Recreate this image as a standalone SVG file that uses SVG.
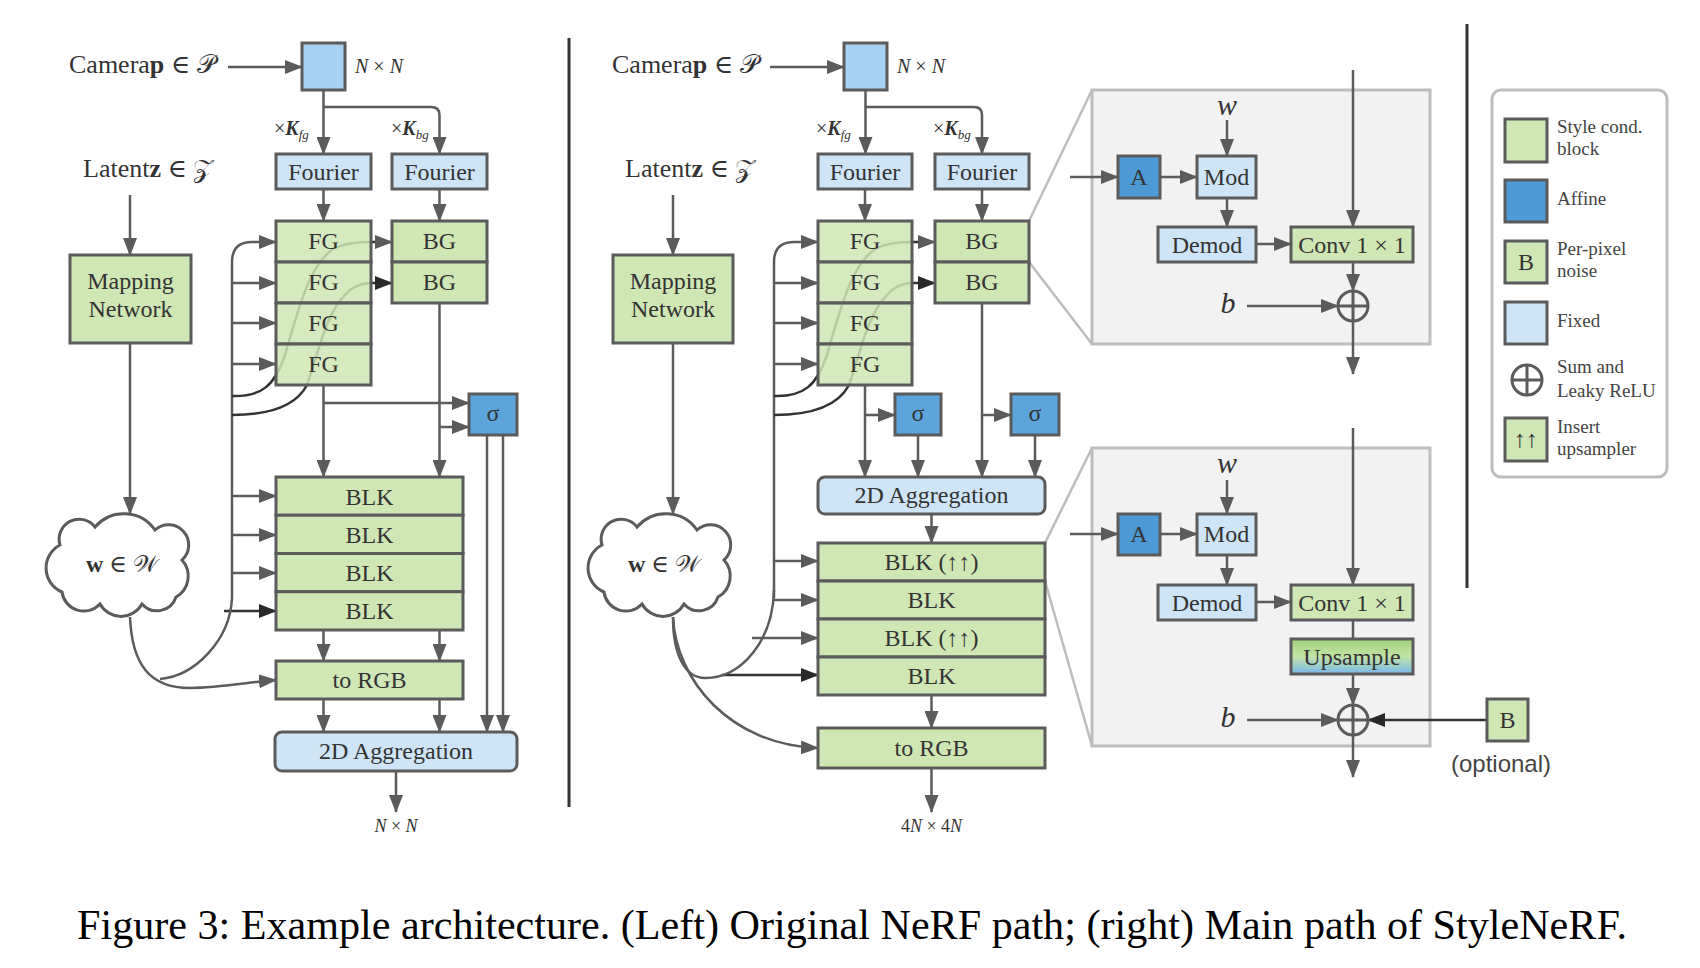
<svg xmlns="http://www.w3.org/2000/svg" width="1700" height="968" viewBox="0 0 1700 968">
<defs>
<style>
.box{stroke:#5b5b5b;stroke-width:3}
.g{fill:#cfe6b5}.fgc{fill:#cfe6b5;fill-opacity:0.85}.lb{fill:#cde5f6}.cb{fill:#a8d0f0}.sb{fill:#5ba5dc}.ab{fill:#4d9ad6}
.t{font-family:"Liberation Serif","DejaVu Serif",serif;font-size:24px;fill:#333;text-anchor:middle}
.s{font-family:"Liberation Serif","DejaVu Serif",serif;fill:#333}
.ln{fill:none;stroke:#5b5b5b;stroke-width:2.5}
.dk{fill:none;stroke:#333;stroke-width:2.5}
.fr{fill:none;stroke:#bdbdbd;stroke-width:2.5}
.sep{stroke:#333;stroke-width:3}
.lg{font-family:"Liberation Serif","DejaVu Serif",serif;font-size:19px;fill:#444}
</style>
<marker id="a" markerUnits="userSpaceOnUse" markerWidth="18" markerHeight="14" refX="17" refY="7" orient="auto"><path d="M0,0 L18,7 L0,14 Z" fill="#5b5b5b"/></marker>
<marker id="d" markerUnits="userSpaceOnUse" markerWidth="18" markerHeight="14" refX="17" refY="7" orient="auto"><path d="M0,0 L18,7 L0,14 Z" fill="#2a2a2a"/></marker>
<linearGradient id="up" x1="0" y1="0" x2="0" y2="1"><stop offset="0" stop-color="#9fd47a"/><stop offset="0.5" stop-color="#c2e3a6"/><stop offset="1" stop-color="#78b8ea"/></linearGradient>
<path id="cloud" d="M60,545 A20,20 0 0 1 95,527 A38,38 0 0 1 155,530 A20,20 0 0 1 182,560 A24,24 0 0 1 176,597 A20,20 0 0 1 142,604 A24,24 0 0 1 100,604 A22,22 0 0 1 62,592 A26,26 0 0 1 60,545 Z"/>
</defs>
<rect width="1700" height="968" fill="#fff"/>

<!-- detail frames (background) -->
<g id="detail-frames">
<rect x="1092" y="90" width="338" height="254" fill="#f2f2f2" stroke="#bdbdbd" stroke-width="3"/>
<rect x="1092" y="448" width="338" height="298" fill="#f2f2f2" stroke="#bdbdbd" stroke-width="3"/>
<path class="fr" d="M1029,221 L1092,90 M1029,262 L1092,344 M1045,543 L1092,448 M1045,581 L1092,746"/>
</g>

<g id="connectors">
<!-- LEFT -->
<path class="ln" d="M228,67 H302" marker-end="url(#a)"/>
<path class="ln" d="M130,195 V255" marker-end="url(#a)"/>
<path class="ln" d="M323.5,90 V154" marker-end="url(#a)"/>
<path class="ln" d="M323.5,107 H431 Q439.5,107 439.5,115 V154" marker-end="url(#a)"/>
<path class="ln" d="M323.5,189 V221" marker-end="url(#a)"/>
<path class="ln" d="M439.5,189 V221" marker-end="url(#a)"/>
<path class="ln" d="M130,343 V514" marker-end="url(#a)"/>
<path class="ln" d="M232,598 L232,262 Q232,242 252,242 L276,242" marker-end="url(#a)"/>
<path class="ln" d="M232,283 H276" marker-end="url(#a)"/>
<path class="ln" d="M232,323 H276" marker-end="url(#a)"/>
<path class="ln" d="M232,364 H276" marker-end="url(#a)"/>
<path class="dk" d="M232,396 C262,397 275,385 285,355 C298,310 310,262 335,248 C345,243 358,242 371,242 L392,242" marker-end="url(#a)"/>
<path class="dk" d="M232,415 C265,415 295,408 307,385 C318,355 325,315 345,295 C352,287 360,283 371,283 L392,283" marker-end="url(#d)"/>
<path class="ln" d="M323.5,385 V477" marker-end="url(#a)"/>
<path class="ln" d="M323.5,403 H469" marker-end="url(#a)"/>
<path class="ln" d="M439.5,303 V477" marker-end="url(#a)"/>
<path class="ln" d="M439.5,427 H469" marker-end="url(#a)"/>
<path class="ln" d="M232,496 H276" marker-end="url(#a)"/>
<path class="ln" d="M232,535 H276" marker-end="url(#a)"/>
<path class="ln" d="M232,573 H276" marker-end="url(#a)"/>
<path class="dk" d="M224,611 H276" marker-end="url(#d)"/>
<path class="ln" d="M160,679 C195,676 230,640 232,598"/>
<path class="ln" d="M130,617 C132,665 150,688 190,688 C220,688 250,682 276,680" marker-end="url(#a)"/>
<path class="ln" d="M323.5,630 V661" marker-end="url(#a)"/>
<path class="ln" d="M439.5,630 V661" marker-end="url(#a)"/>
<path class="ln" d="M323.5,699 V732" marker-end="url(#a)"/>
<path class="ln" d="M439.5,699 V732" marker-end="url(#a)"/>
<path class="ln" d="M487,435 V732" marker-end="url(#a)"/>
<path class="ln" d="M503,435 V732" marker-end="url(#a)"/>
<path class="ln" d="M396,771 V812" marker-end="url(#a)"/>
<!-- RIGHT -->
<path class="ln" d="M770,67 H844" marker-end="url(#a)"/>
<path class="ln" d="M673,195 V255" marker-end="url(#a)"/>
<path class="ln" d="M865.5,90 V154" marker-end="url(#a)"/>
<path class="ln" d="M865.5,107 H974 Q982,107 982,115 V154" marker-end="url(#a)"/>
<path class="ln" d="M865,189 V221" marker-end="url(#a)"/>
<path class="ln" d="M982,189 V221" marker-end="url(#a)"/>
<path class="ln" d="M673,343 V514" marker-end="url(#a)"/>
<path class="ln" d="M774,598 L774,262 Q774,242 794,242 L818,242" marker-end="url(#a)"/>
<path class="ln" d="M774,283 H818" marker-end="url(#a)"/>
<path class="ln" d="M774,323 H818" marker-end="url(#a)"/>
<path class="ln" d="M774,364 H818" marker-end="url(#a)"/>
<path class="dk" d="M774,396 C804,397 817,385 827,355 C840,310 852,262 877,248 C887,243 900,242 912,242 L935,242" marker-end="url(#a)"/>
<path class="dk" d="M774,415 C807,415 837,408 849,385 C860,355 867,315 887,295 C894,287 902,283 912,283 L935,283" marker-end="url(#d)"/>
<path class="ln" d="M865,385 V477" marker-end="url(#a)"/>
<path class="ln" d="M865,415 H895" marker-end="url(#a)"/>
<path class="ln" d="M982,303 V477" marker-end="url(#a)"/>
<path class="ln" d="M982,415 H1011" marker-end="url(#a)"/>
<path class="ln" d="M918,435 V477" marker-end="url(#a)"/>
<path class="ln" d="M1035,435 V477" marker-end="url(#a)"/>
<path class="ln" d="M931.5,514 V543" marker-end="url(#a)"/>
<path class="ln" d="M774,561 H818" marker-end="url(#a)"/>
<path class="ln" d="M774,600 H818" marker-end="url(#a)"/>
<path class="ln" d="M752,638 H818" marker-end="url(#a)"/>
<path class="dk" d="M722,675 H818" marker-end="url(#d)"/>
<path class="ln" d="M774,590 C773,640 742,678 705,678"/>
<path class="ln" d="M673,617 C673,655 685,678 705,678"/>
<path class="ln" d="M673,617 C676,680 730,745 818,748" marker-end="url(#a)"/>
<path class="ln" d="M931.5,695 V728" marker-end="url(#a)"/>
<path class="ln" d="M931.5,768 V812" marker-end="url(#a)"/>
<!-- box 1 -->
<path class="ln" d="M1070,177 H1118" marker-end="url(#a)"/>
<path class="ln" d="M1160,177 H1197" marker-end="url(#a)"/>
<path class="ln" d="M1227,120 V156" marker-end="url(#a)"/>
<path class="ln" d="M1227,198 V227" marker-end="url(#a)"/>
<path class="ln" d="M1256,244 H1291" marker-end="url(#a)"/>
<path class="ln" d="M1353,70 V227" marker-end="url(#a)"/>
<path class="ln" d="M1353,262 V291" marker-end="url(#a)"/>
<path class="ln" d="M1247,306 H1338" marker-end="url(#a)"/>
<path class="ln" d="M1353,321 V374" marker-end="url(#a)"/>
<!-- box 2 -->
<path class="ln" d="M1070,534 H1118" marker-end="url(#a)"/>
<path class="ln" d="M1160,534 H1197" marker-end="url(#a)"/>
<path class="ln" d="M1227,480 V514" marker-end="url(#a)"/>
<path class="ln" d="M1227,555 V585" marker-end="url(#a)"/>
<path class="ln" d="M1256,602 H1291" marker-end="url(#a)"/>
<path class="ln" d="M1353,428 V585" marker-end="url(#a)"/>
<path class="ln" d="M1353,620 V639"/>
<path class="ln" d="M1353,674 V705" marker-end="url(#a)"/>
<path class="ln" d="M1247,720 H1338" marker-end="url(#a)"/>
<path class="dk" d="M1487,720 H1368" marker-end="url(#d)"/>
<path class="ln" d="M1353,735 V777" marker-end="url(#a)"/>
</g>

<!-- separators -->
<line class="sep" x1="569" y1="38" x2="569" y2="807"/>
<line class="sep" x1="1467" y1="24" x2="1467" y2="588"/>

<!-- LEFT NODES -->
<g id="camera-left">
<text class="s" x="69" y="73" font-size="26">Camera<tspan font-weight="bold">p</tspan> ∈ 𝒫</text>
<rect class="box cb" x="302" y="43" width="43" height="47"/>
<text class="s" x="355" y="73" font-size="20"><tspan font-style="italic">N</tspan> × <tspan font-style="italic">N</tspan></text>
</g>
<g id="latent-left"><text class="s" x="83" y="177" font-size="26">Latent<tspan font-weight="bold">z</tspan> ∈ 𝒵</text></g>
<g id="kfg-left"><text class="s" x="274" y="135" font-size="20">×<tspan font-style="italic" font-weight="bold">K</tspan><tspan font-style="italic" font-size="13" dy="4">fg</tspan></text></g>
<g id="kbg-left"><text class="s" x="391" y="135" font-size="20">×<tspan font-style="italic" font-weight="bold">K</tspan><tspan font-style="italic" font-size="13" dy="4">bg</tspan></text></g>
<g id="fourier-fg-left"><rect class="box lb" x="276" y="154" width="95" height="35"/><text class="t" x="323.5" y="180">Fourier</text></g>
<g id="fourier-bg-left"><rect class="box lb" x="392" y="154" width="95" height="35"/><text class="t" x="439.5" y="180">Fourier</text></g>
<g id="mapping-left"><rect class="box g" x="70" y="255" width="121" height="88"/><text class="t" x="130.5" y="289">Mapping</text><text class="t" x="130.5" y="317">Network</text></g>
<g id="fg-left">
<rect class="box fgc" x="276" y="221" width="95" height="41"/><text class="t" x="323.5" y="249" font-size="22">FG</text>
<rect class="box fgc" x="276" y="262" width="95" height="41"/><text class="t" x="323.5" y="290" font-size="22">FG</text>
<rect class="box fgc" x="276" y="303" width="95" height="41"/><text class="t" x="323.5" y="331" font-size="22">FG</text>
<rect class="box fgc" x="276" y="344" width="95" height="41"/><text class="t" x="323.5" y="372" font-size="22">FG</text>
</g>
<g id="bg-left">
<rect class="box g" x="392" y="221" width="95" height="41"/><text class="t" x="439.5" y="249" font-size="22">BG</text>
<rect class="box g" x="392" y="262" width="95" height="41"/><text class="t" x="439.5" y="290" font-size="22">BG</text>
</g>
<g id="sigma-left"><rect class="box sb" x="469" y="394" width="48" height="41"/><text class="t" x="493" y="421">σ</text></g>
<g id="cloud-left"><use href="#cloud" fill="#fff" stroke="#5b5b5b" stroke-width="3"/><text class="s" x="122" y="572" font-size="24" text-anchor="middle"><tspan font-weight="bold">w</tspan> ∈ 𝒲</text></g>
<g id="blk-left">
<rect class="box g" x="276" y="477" width="187" height="38.25"/><text class="t" x="369.5" y="505">BLK</text>
<rect class="box g" x="276" y="515.25" width="187" height="38.25"/><text class="t" x="369.5" y="543">BLK</text>
<rect class="box g" x="276" y="553.5" width="187" height="38.25"/><text class="t" x="369.5" y="581">BLK</text>
<rect class="box g" x="276" y="591.75" width="187" height="38.25"/><text class="t" x="369.5" y="619">BLK</text>
</g>
<g id="torgb-left"><rect class="box g" x="276" y="661" width="187" height="38"/><text class="t" x="369.5" y="688">to RGB</text></g>
<g id="agg-left"><rect class="box lb" x="275" y="732" width="242" height="39" rx="7"/><text class="t" x="396" y="759">2D Aggregation</text></g>
<g id="out-left"><text class="s" x="396" y="832" font-size="18" text-anchor="middle"><tspan font-style="italic">N</tspan> × <tspan font-style="italic">N</tspan></text></g>

<!-- RIGHT NODES -->
<g id="camera-right">
<text class="s" x="612" y="73" font-size="26">Camera<tspan font-weight="bold">p</tspan> ∈ 𝒫</text>
<rect class="box cb" x="844" y="43" width="43" height="47"/>
<text class="s" x="897" y="73" font-size="20"><tspan font-style="italic">N</tspan> × <tspan font-style="italic">N</tspan></text>
</g>
<g id="latent-right"><text class="s" x="625" y="177" font-size="26">Latent<tspan font-weight="bold">z</tspan> ∈ 𝒵</text></g>
<g id="kfg-right"><text class="s" x="816" y="135" font-size="20">×<tspan font-style="italic" font-weight="bold">K</tspan><tspan font-style="italic" font-size="13" dy="4">fg</tspan></text></g>
<g id="kbg-right"><text class="s" x="933" y="135" font-size="20">×<tspan font-style="italic" font-weight="bold">K</tspan><tspan font-style="italic" font-size="13" dy="4">bg</tspan></text></g>
<g id="fourier-fg-right"><rect class="box lb" x="818" y="154" width="94" height="35"/><text class="t" x="865" y="180">Fourier</text></g>
<g id="fourier-bg-right"><rect class="box lb" x="935" y="154" width="94" height="35"/><text class="t" x="982" y="180">Fourier</text></g>
<g id="mapping-right"><rect class="box g" x="613" y="255" width="120" height="88"/><text class="t" x="673" y="289">Mapping</text><text class="t" x="673" y="317">Network</text></g>
<g id="fg-right">
<rect class="box fgc" x="818" y="221" width="94" height="41"/><text class="t" x="865" y="249" font-size="22">FG</text>
<rect class="box fgc" x="818" y="262" width="94" height="41"/><text class="t" x="865" y="290" font-size="22">FG</text>
<rect class="box fgc" x="818" y="303" width="94" height="41"/><text class="t" x="865" y="331" font-size="22">FG</text>
<rect class="box fgc" x="818" y="344" width="94" height="41"/><text class="t" x="865" y="372" font-size="22">FG</text>
</g>
<g id="bg-right">
<rect class="box g" x="935" y="221" width="94" height="41"/><text class="t" x="982" y="249" font-size="22">BG</text>
<rect class="box g" x="935" y="262" width="94" height="41"/><text class="t" x="982" y="290" font-size="22">BG</text>
</g>
<g id="sigma-fg-right"><rect class="box sb" x="895" y="394" width="46" height="41"/><text class="t" x="918" y="421">σ</text></g>
<g id="sigma-bg-right"><rect class="box sb" x="1011" y="394" width="48" height="41"/><text class="t" x="1035" y="421">σ</text></g>
<g id="agg-right"><rect class="box lb" x="818" y="477" width="227" height="37" rx="7"/><text class="t" x="931.5" y="503">2D Aggregation</text></g>
<g id="cloud-right"><use href="#cloud" x="542" fill="#fff" stroke="#5b5b5b" stroke-width="3"/><text class="s" x="664" y="572" font-size="24" text-anchor="middle"><tspan font-weight="bold">w</tspan> ∈ 𝒲</text></g>
<g id="blk-right">
<rect class="box g" x="818" y="543" width="227" height="38"/><text class="t" x="931.5" y="570">BLK (↑↑)</text>
<rect class="box g" x="818" y="581" width="227" height="38"/><text class="t" x="931.5" y="608">BLK</text>
<rect class="box g" x="818" y="619" width="227" height="38"/><text class="t" x="931.5" y="646">BLK (↑↑)</text>
<rect class="box g" x="818" y="657" width="227" height="38"/><text class="t" x="931.5" y="684">BLK</text>
</g>
<g id="torgb-right"><rect class="box g" x="818" y="728" width="227" height="40"/><text class="t" x="931.5" y="756">to RGB</text></g>
<g id="out-right"><text class="s" x="931.5" y="832" font-size="18" text-anchor="middle">4<tspan font-style="italic">N</tspan> × 4<tspan font-style="italic">N</tspan></text></g>

<!-- ZOOM BOX 1 -->
<g id="detail-bg">
<text class="s" x="1227" y="115" font-size="30" font-style="italic" text-anchor="middle">w</text>
<rect class="box ab" x="1118" y="156" width="42" height="42"/><text class="t" x="1139" y="185">A</text>
<rect class="box lb" x="1197" y="156" width="59" height="42"/><text class="t" x="1226.5" y="185">Mod</text>
<rect class="box lb" x="1158" y="227" width="98" height="35"/><text class="t" x="1207" y="253">Demod</text>
<rect class="box g" x="1291" y="227" width="122" height="35"/><text class="t" x="1352" y="253" fill="#222">Conv 1 × 1</text>
<text class="s" x="1228" y="313" font-size="30" font-style="italic" text-anchor="middle">b</text>
<circle cx="1353" cy="306" r="15" fill="none" stroke="#5b5b5b" stroke-width="3"/>
<path d="M1338,306 H1368 M1353,291 V321" stroke="#5b5b5b" stroke-width="3"/>
</g>
<!-- ZOOM BOX 2 -->
<g id="detail-blk">
<text class="s" x="1227" y="473" font-size="30" font-style="italic" text-anchor="middle">w</text>
<rect class="box ab" x="1118" y="514" width="42" height="41"/><text class="t" x="1139" y="542">A</text>
<rect class="box lb" x="1197" y="514" width="59" height="41"/><text class="t" x="1226.5" y="542">Mod</text>
<rect class="box lb" x="1158" y="585" width="98" height="35"/><text class="t" x="1207" y="611">Demod</text>
<rect class="box g" x="1291" y="585" width="122" height="35"/><text class="t" x="1352" y="611" fill="#222">Conv 1 × 1</text>
<rect class="box" x="1291" y="639" width="122" height="35" fill="url(#up)"/><text class="t" x="1352" y="665">Upsample</text>
<text class="s" x="1228" y="727" font-size="30" font-style="italic" text-anchor="middle">b</text>
<circle cx="1353" cy="720" r="15" fill="none" stroke="#5b5b5b" stroke-width="3"/>
<path d="M1338,720 H1368 M1353,705 V735" stroke="#5b5b5b" stroke-width="3"/>
</g>
<g id="noise-b"><rect class="box g" x="1487" y="699" width="41" height="42"/><text class="t" x="1507.5" y="728">B</text>
<text x="1501" y="772" font-family="Liberation Sans, Arial, sans-serif" font-size="24" fill="#444" text-anchor="middle">(optional)</text></g>

<!-- LEGEND -->
<g id="legend">
<rect x="1492" y="90" width="175" height="387" rx="9" fill="#fff" stroke="#bdbdbd" stroke-width="3"/>
<rect class="box g" x="1505" y="119" width="42" height="43"/>
<text class="lg" x="1557" y="133">Style cond.</text><text class="lg" x="1557" y="155">block</text>
<rect class="box ab" x="1505" y="180" width="42" height="42"/>
<text class="lg" x="1557" y="205">Affine</text>
<rect class="box g" x="1505" y="241" width="42" height="42"/><text class="t" x="1526" y="270" font-size="22">B</text>
<text class="lg" x="1557" y="255">Per-pixel</text><text class="lg" x="1557" y="277">noise</text>
<rect class="box lb" x="1505" y="302" width="42" height="42"/>
<text class="lg" x="1557" y="327">Fixed</text>
<circle cx="1527" cy="380" r="15" fill="none" stroke="#5b5b5b" stroke-width="3"/>
<path d="M1512,380 H1542 M1527,365 V395" stroke="#5b5b5b" stroke-width="3"/>
<text class="lg" x="1557" y="373">Sum and</text><text class="lg" x="1557" y="397">Leaky ReLU</text>
<rect class="box g" x="1505" y="418" width="42" height="43"/><text class="t" x="1526" y="447" font-size="22">↑↑</text>
<text class="lg" x="1557" y="433">Insert</text><text class="lg" x="1557" y="455">upsampler</text>
</g>

<g id="caption"><text x="77" y="939" font-family="Liberation Serif, serif" font-size="42" fill="#000" textLength="1550" lengthAdjust="spacingAndGlyphs">Figure 3: Example architecture. (Left) Original NeRF path; (right) Main path of StyleNeRF.</text></g>
</svg>
